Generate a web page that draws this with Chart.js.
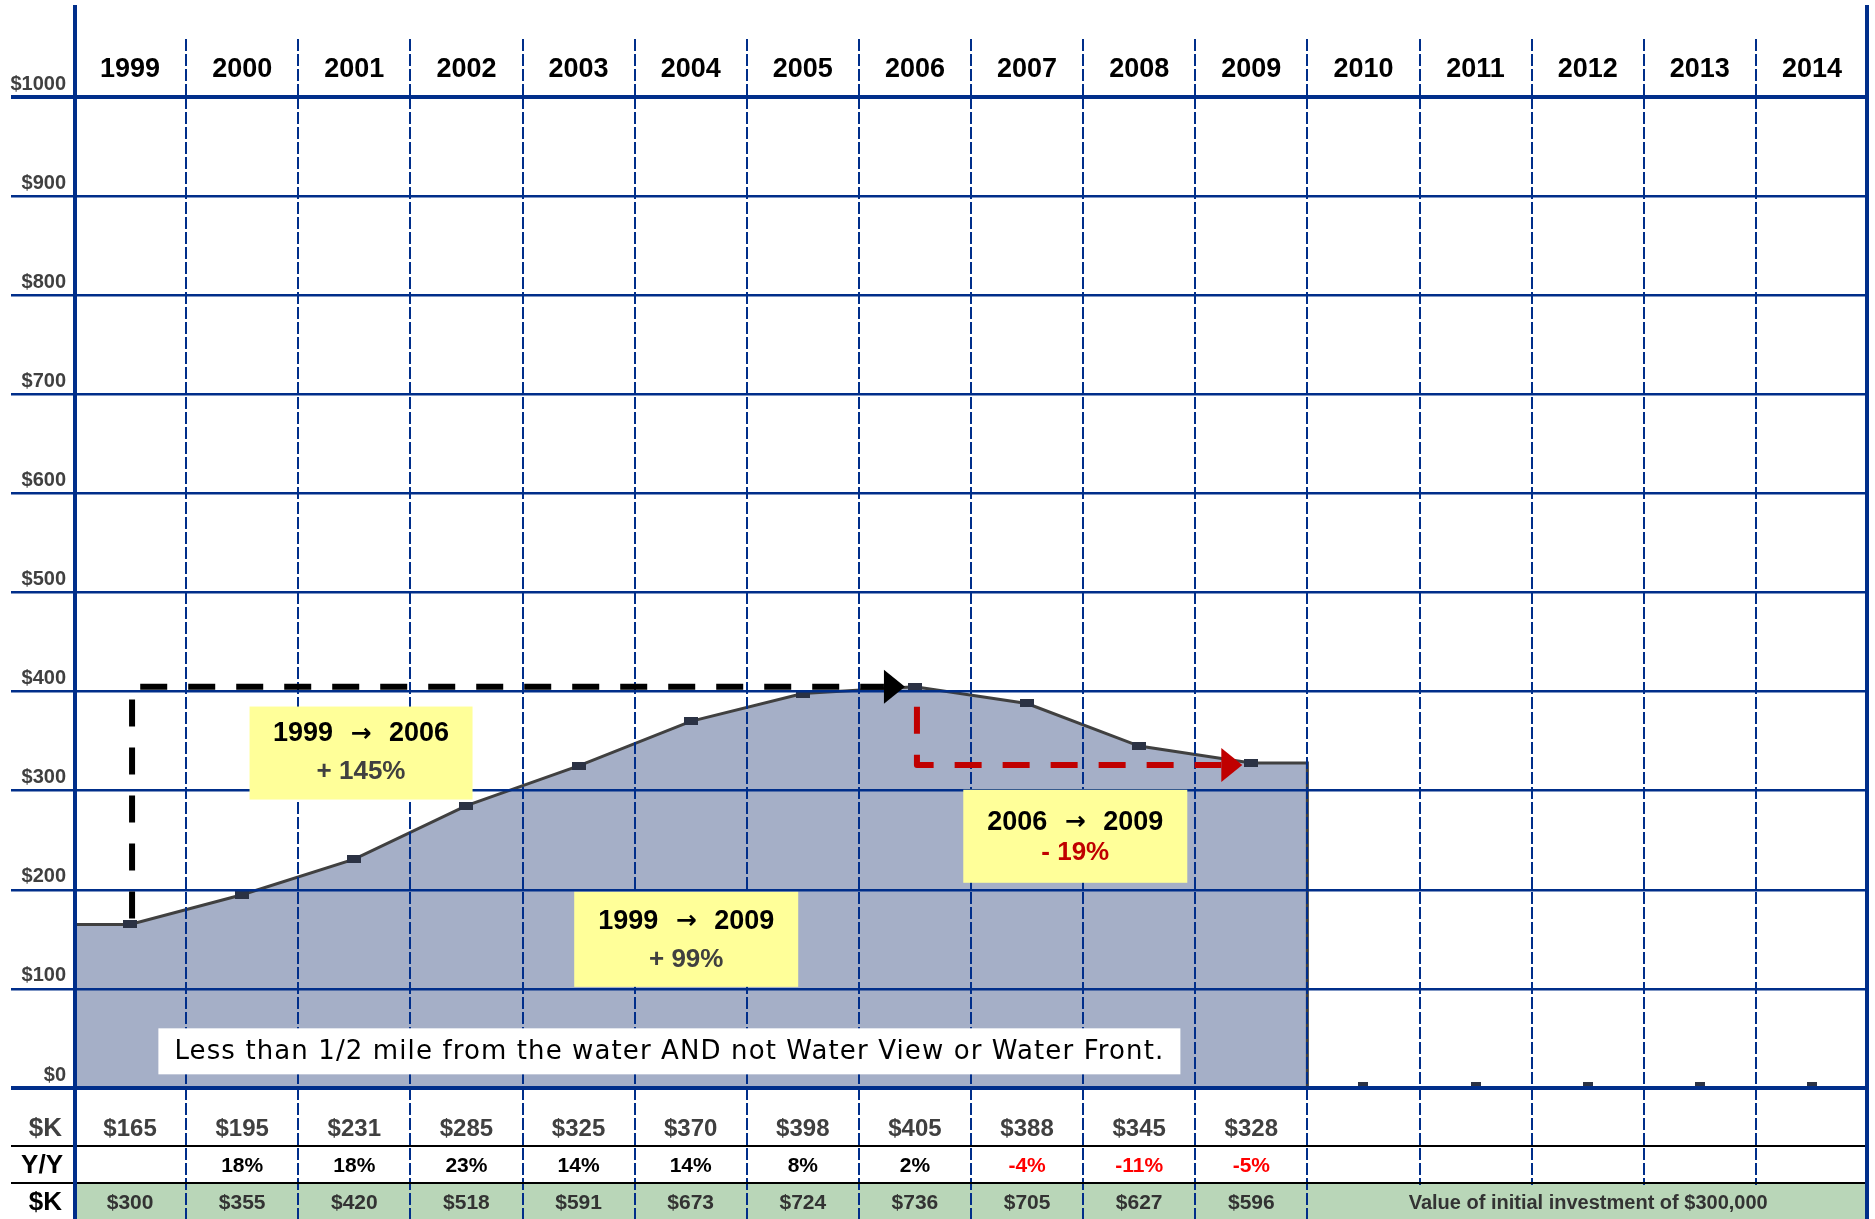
<!DOCTYPE html>
<html lang="en">
<head>
<meta charset="UTF-8">
<title>Home values 1999 - 2014</title>
<script src="https://cdn.jsdelivr.net/npm/chart.js"></script>
<style>
  html, body { margin: 0; padding: 0; background: #fff; }
  canvas { display: block; }
</style>
</head>
<body>
<canvas id="myChart" width="1875" height="1219"></canvas>
<script>
// values ($K)
var years = ['1999', '2000', '2001', '2002', '2003', '2004', '2005', '2006',
             '2007', '2008', '2009', '2010', '2011', '2012', '2013', '2014'];
var kValues = [165, 195, 231, 285, 325, 370, 398, 405, 388, 345, 328];
var yoy = ['', '18%', '18%', '23%', '14%', '14%', '8%', '2%', '-4%', '-11%', '-5%'];
var investment = [300, 355, 420, 518, 591, 673, 724, 736, 705, 627, 596];
var yTicks = [0, 100, 200, 300, 400, 500, 600, 700, 800, 900, 1000];

// annotation boxes, centred in data units (column index, $K)
var notes = [
    { x: 2.06, y: 338, w: 223, h: 93, from: '1999', to: '2006', change: '+ 145%', color: '#404040', d1: -19, d2: 19 },
    { x: 8.43, y: 254, w: 224, h: 93, from: '2006', to: '2009', change: '- 19%', color: '#C00000', d1: -14, d2: 17 },
    { x: 4.96, y: 150, w: 224, h: 95, from: '1999', to: '2009', change: '+ 99%', color: '#404040', d1: -18, d2: 20 }
];
var caption = 'Less than 1/2 mile from the water AND not Water View or Water Front.';
var footNote = 'Value of initial investment of $300,000';

var SANS = "'Liberation Sans', Arial, sans-serif";
var VERDANA = "'DejaVu Sans', Verdana, sans-serif";
var NAVY = '#002E8A';
var GREEN = '#B9D6B8';
var plotLeft = 74, plotRight = 1868, W = 1875, H = 1219;
var colHalf = (plotRight - plotLeft) / years.length / 2;
var n = kValues.length;

function boundaries() {
    var b = [];
    for (var i = 0; i <= years.length; i++) b.push({ value: i - 0.5 });
    return b;
}
function innerColor(ctx) {
    var v = ctx.tick.value;
    return (v <= -0.5 || v >= years.length - 0.5) ? 'rgba(0,0,0,0)' : NAVY;
}
function yWidth(ctx) {
    var v = ctx.tick.value;
    return (v === 0 || v === 1000) ? 4 : 2.5;
}

function markImage(w, h, topOnly) {
    var c = document.createElement('canvas');
    c.width = w;
    c.height = topOnly ? h * 2 : h;
    var g = c.getContext('2d');
    g.fillStyle = '#2B3244';
    g.fillRect(0, 0, w, h);
    return c;
}
var mark = markImage(14, 8, false);
var zeroMark = markImage(10, 6, true);

var areaData = [{ x: -0.5, y: 0 }, { x: -0.5, y: kValues[0] }]
    .concat(kValues.map(function (v, i) { return { x: i, y: v }; }))
    .concat([{ x: n - 0.5, y: kValues[n - 1] }, { x: n - 0.5, y: 0 }]);
var markData = years.map(function (yr, i) { return { x: i, y: i < n ? kValues[i] : 0 }; });

function dashedArrow(ctx, pts, color) {
    ctx.save();
    ctx.strokeStyle = color;
    ctx.fillStyle = color;
    ctx.lineWidth = 6;
    ctx.lineJoin = 'round';
    ctx.setLineDash([27, 21]);
    ctx.beginPath();
    ctx.moveTo(pts[0][0], pts[0][1]);
    for (var i = 1; i < pts.length; i++) ctx.lineTo(pts[i][0], pts[i][1]);
    ctx.stroke();
    var b = pts[pts.length - 1];
    ctx.setLineDash([]);
    ctx.beginPath();
    ctx.moveTo(b[0] + 21, b[1]);
    ctx.lineTo(b[0], b[1] - 17);
    ctx.lineTo(b[0], b[1] + 17);
    ctx.closePath();
    ctx.fill();
    ctx.restore();
}

var sheet = {
    id: 'sheet',
    beforeDraw: function (chart) {
        var ctx = chart.ctx, a = chart.chartArea;
        ctx.save();
        ctx.fillStyle = '#fff';
        ctx.fillRect(0, 0, W, H);
        ctx.fillStyle = GREEN;
        ctx.fillRect(a.left, a.bottom + 96, a.right - a.left, H - a.bottom - 96);
        ctx.restore();
    },
    afterDraw: function (chart) {
        var ctx = chart.ctx, a = chart.chartArea;
        var xs = chart.scales.x, ys = chart.scales.y;
        ctx.save();

        // merged cell under 2010-2014
        var mx = xs.getPixelForValue(n - 0.5) + 1;
        ctx.fillStyle = GREEN;
        ctx.fillRect(mx, a.bottom + 97, a.right - mx, H - a.bottom - 97);

        // row separators
        ctx.strokeStyle = '#000';
        ctx.lineWidth = 2;
        [a.bottom + 58, a.bottom + 95].forEach(function (y) {
            ctx.beginPath();
            ctx.moveTo(11, y);
            ctx.lineTo(a.right, y);
            ctx.stroke();
        });

        // table values
        var r1 = a.bottom + 41, r2 = a.bottom + 78, r3 = a.bottom + 115;
        ctx.textAlign = 'center';
        ctx.textBaseline = 'middle';
        kValues.forEach(function (v, i) {
            var px = xs.getPixelForValue(i);
            ctx.font = 'bold 24px ' + SANS;
            ctx.fillStyle = '#404040';
            ctx.fillText('$' + v, px, r1);
            if (yoy[i]) {
                ctx.font = 'bold 21px ' + SANS;
                ctx.fillStyle = yoy[i].charAt(0) === '-' ? '#FF0000' : '#000';
                ctx.fillText(yoy[i], px, r2);
            }
            ctx.font = 'bold 21px ' + SANS;
            ctx.fillStyle = '#333';
            ctx.fillText('$' + investment[i], px, r3);
        });
        ctx.font = 'bold 20px ' + SANS;
        ctx.fillStyle = '#333';
        ctx.fillText(footNote, (mx + a.right) / 2, r3);

        // row labels
        ctx.textAlign = 'right';
        ctx.font = 'bold 26px ' + SANS;
        ctx.fillStyle = '#404040';
        ctx.fillText('$K', 62, r1);
        ctx.fillStyle = '#000';
        ctx.fillText('Y/Y', 63, r2);
        ctx.fillText('$K', 62, r3);

        // caption box, text spread to ~990px like the original
        var cx = xs.getPixelForValue(4.81), cy = ys.getPixelForValue(37);
        ctx.fillStyle = '#fff';
        ctx.fillRect(cx - 511, cy - 23, 1022, 46);
        ctx.textAlign = 'center';
        ctx.fillStyle = '#000';
        ctx.font = '26px ' + VERDANA;
        var spare = 990 - ctx.measureText(caption).width;
        if (spare > 0 && 'letterSpacing' in ctx) {
            ctx.letterSpacing = (spare / caption.length).toFixed(2) + 'px';
        }
        ctx.fillText(caption, cx, cy + 1);
        if ('letterSpacing' in ctx) ctx.letterSpacing = '0px';

        // yellow notes
        notes.forEach(function (nt) {
            var bx = xs.getPixelForValue(nt.x), by = ys.getPixelForValue(nt.y);
            ctx.fillStyle = '#FFFF99';
            ctx.fillRect(bx - nt.w / 2, by - nt.h / 2, nt.w, nt.h);
            ctx.fillStyle = '#000';
            ctx.font = 'bold 27px ' + SANS;
            ctx.textAlign = 'right';
            ctx.fillText(nt.from, bx - 28, by + nt.d1);
            ctx.textAlign = 'left';
            ctx.fillText(nt.to, bx + 28, by + nt.d1);
            ctx.textAlign = 'center';
            ctx.font = 'bold 25px ' + VERDANA;
            ctx.fillText('\u2192', bx, by + nt.d1);
            ctx.font = 'bold 26px ' + SANS;
            ctx.fillStyle = nt.color;
            ctx.fillText(nt.change, bx, by + nt.d2);
        });

        // arrows: 1999 -> peak, peak -> last year
        var peak = kValues.indexOf(Math.max.apply(null, kValues));
        var x0 = xs.getPixelForValue(0) + 2;
        var yPeak = ys.getPixelForValue(kValues[peak]);
        dashedArrow(ctx, [[x0, ys.getPixelForValue(kValues[0]) - 6], [x0, yPeak],
                          [xs.getPixelForValue(peak) - 31, yPeak]], '#000');
        var xp = xs.getPixelForValue(peak) + 2;
        var yLast = ys.getPixelForValue(kValues[n - 1]) + 2;
        dashedArrow(ctx, [[xp, yPeak + 20], [xp, yLast],
                          [xs.getPixelForValue(n - 1) - 30, yLast]], '#C00000');

        // heavy frame lines
        ctx.strokeStyle = NAVY;
        ctx.lineWidth = 4;
        [a.left + 1, a.right - 1].forEach(function (x) {
            ctx.beginPath();
            ctx.moveTo(x, 5);
            ctx.lineTo(x, H);
            ctx.stroke();
        });
        ctx.restore();
    }
};

new Chart(document.getElementById('myChart'), {
    type: 'line',
    data: {
        datasets: [
            {
                data: areaData,
                order: 1,
                borderColor: '#404040',
                borderWidth: 3,
                backgroundColor: '#A5AFC7',
                fill: 'origin',
                tension: 0,
                pointRadius: 0
            },
            {
                data: markData,
                order: 0,
                showLine: false,
                pointRadius: 5,
                pointStyle: function (c) { return c.raw && c.raw.y === 0 ? zeroMark : mark; },
                clip: false
            }
        ]
    },
    options: {
        responsive: false,
        animation: false,
        events: [],
        layout: { padding: { left: 0, right: W - plotRight, top: 0, bottom: 0 } },
        plugins: { legend: { display: false }, tooltip: { enabled: false } },
        scales: {
            x: {
                type: 'linear',
                position: 'top',
                min: -0.5,
                max: years.length - 0.5,
                bounds: 'data',
                afterBuildTicks: function (s) { s.ticks = boundaries(); },
                afterFit: function (s) { s.height = 97; },
                border: { display: false, dash: [12, 3] },
                grid: {
                    z: 1,
                    color: innerColor,
                    lineWidth: 2,
                    tickLength: 58,
                    tickColor: innerColor,
                    tickWidth: 2,
                    tickBorderDash: [12, 3]
                },
                ticks: {
                    autoSkip: false,
                    maxRotation: 0,
                    padding: -47,
                    labelOffset: colHalf,
                    color: '#000',
                    font: { family: SANS, size: 27, weight: 'bold' },
                    callback: function (v) { return years[Math.round(v + 0.5)] || ''; }
                }
            },
            xb: {
                type: 'linear',
                axis: 'x',
                position: 'bottom',
                min: -0.5,
                max: years.length - 0.5,
                bounds: 'data',
                afterBuildTicks: function (s) { s.ticks = boundaries(); },
                afterFit: function (s) { s.height = H - 1088; },
                border: { display: false },
                grid: {
                    drawOnChartArea: false,
                    color: innerColor,
                    lineWidth: 2,
                    tickLength: H - 1088,
                    tickColor: innerColor,
                    tickWidth: 2,
                    tickBorderDash: [12, 3]
                },
                ticks: { display: false }
            },
            y: {
                type: 'linear',
                position: 'left',
                min: 0,
                max: 1000,
                afterBuildTicks: function (s) { s.ticks = yTicks.map(function (v) { return { value: v }; }); },
                afterFit: function (s) { s.width = plotLeft; },
                border: { display: false },
                grid: {
                    z: 1,
                    color: NAVY,
                    lineWidth: yWidth,
                    tickLength: plotLeft - 11,
                    tickColor: NAVY,
                    tickWidth: yWidth
                },
                ticks: {
                    padding: -55,
                    labelOffset: -13,
                    color: '#404040',
                    font: { family: SANS, size: 20, weight: 'bold' },
                    callback: function (v) { return '$' + v; }
                }
            }
        }
    },
    plugins: [sheet]
});
</script>
</body>
</html>
